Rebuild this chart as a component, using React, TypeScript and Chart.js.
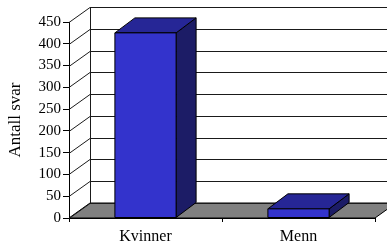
import React, { useEffect, useRef } from "react";
import { Chart, registerables } from "chart.js";

Chart.register(...registerables);

const categories = ["Kvinner", "Menn"];
const values = [425, 21];
const yMax = 450;
const yStep = 50;
const yTitle = "Antall svar";

const FONT = "'Liberation Serif', 'Times New Roman', serif";
const DX = 21;
const DY = -15;
const BDX = 20;
const BDY = -15;

const threeD = {
  id: "threeD",
  beforeDatasetsDraw(chart: any) {
    const ctx = chart.ctx;
    const { left, right, top, bottom } = chart.chartArea;
    const ys = chart.scales.y;
    ctx.save();
    // floor
    ctx.beginPath();
    ctx.moveTo(left, bottom);
    ctx.lineTo(left + DX, bottom + DY);
    ctx.lineTo(right + DX, bottom + DY);
    ctx.lineTo(right, bottom);
    ctx.closePath();
    ctx.fillStyle = "#808080";
    ctx.fill();
    ctx.strokeStyle = "#000";
    ctx.lineWidth = 1;
    ctx.stroke();
    // grid on walls
    ctx.strokeStyle = "#1a1a1a";
    for (let v = 0; v <= yMax; v += yStep) {
      const yf = Math.round(ys.getPixelForValue(v)) + 0.5;
      ctx.beginPath();
      ctx.moveTo(left, yf);
      ctx.lineTo(left + DX, yf + DY);
      ctx.lineTo(right + DX, yf + DY);
      ctx.stroke();
    }
    // back wall left edge
    const xb = Math.round(left + DX) + 0.5;
    ctx.beginPath();
    ctx.moveTo(xb, bottom + DY);
    ctx.lineTo(xb, top + DY);
    ctx.stroke();
    // axis title
    ctx.fillStyle = "#000";
    ctx.font = `17px ${FONT}`;
    ctx.textAlign = "center";
    ctx.textBaseline = "middle";
    ctx.translate(16, (top + bottom) / 2);
    ctx.rotate(-Math.PI / 2);
    ctx.fillText(yTitle, 0, 0);
    ctx.restore();
  },
  afterDatasetsDraw(chart: any) {
    const ctx = chart.ctx;
    const meta = chart.getDatasetMeta(0);
    ctx.save();
    ctx.strokeStyle = "#000";
    ctx.lineWidth = 1;
    ctx.lineJoin = "round";
    meta.data.forEach((bar: any) => {
      const { x, y, width, base } = bar.getProps(["x", "y", "width", "base"], true);
      const l = x - width / 2;
      const r = x + width / 2;
      // side
      ctx.beginPath();
      ctx.moveTo(r, y);
      ctx.lineTo(r + BDX, y + BDY);
      ctx.lineTo(r + BDX, base + BDY);
      ctx.lineTo(r, base);
      ctx.closePath();
      ctx.fillStyle = "rgb(28,28,102)";
      ctx.fill();
      ctx.stroke();
      // top
      ctx.beginPath();
      ctx.moveTo(l, y);
      ctx.lineTo(l + BDX, y + BDY);
      ctx.lineTo(r + BDX, y + BDY);
      ctx.lineTo(r, y);
      ctx.closePath();
      ctx.fillStyle = "rgb(38,38,150)";
      ctx.fill();
      ctx.stroke();
      // front
      ctx.beginPath();
      ctx.rect(l, y, width, base - y);
      ctx.fillStyle = "rgb(51,51,204)";
      ctx.fill();
      ctx.stroke();
    });
    ctx.restore();
  },
};

export default function App() {
  const ref = useRef<HTMLCanvasElement | null>(null);
  useEffect(() => {
    if (!ref.current) return;
    const chart = new Chart(ref.current, {
      type: "bar",
      data: {
        labels: categories,
        datasets: [
          {
            data: values,
            backgroundColor: "rgba(0,0,0,0)",
            borderWidth: 0,
            barPercentage: 0.4,
            categoryPercentage: 1,
          },
        ],
      },
      options: {
        responsive: false,
        animation: false,
        layout: { padding: { top: 22, right: 12, left: 0, bottom: 0 } },
        plugins: { legend: { display: false }, tooltip: { enabled: false } },
        scales: {
          x: {
            offset: true,
            afterFit: (s: any) => {
              s.height = 32;
            },
            grid: { drawOnChartArea: false, drawTicks: true, tickLength: 4, color: "#000" },
            border: { display: true, color: "#000" },
            ticks: { color: "#000", font: { family: FONT, size: 16 }, padding: 5, maxRotation: 0 },
          },
          y: {
            min: 0,
            max: yMax,
            afterFit: (s: any) => {
              s.width = 69;
            },
            grid: { drawOnChartArea: false, drawTicks: true, tickLength: 6, color: "#000" },
            border: { display: true, color: "#000" },
            ticks: { stepSize: yStep, color: "#000", font: { family: FONT, size: 15 }, padding: 2 },
          },
        },
      },
      plugins: [threeD],
    });
    return () => chart.destroy();
  }, []);
  return (
    <div style={{ position: "fixed", left: 0, top: 0, width: 387, height: 250, background: "#fff" }}>
      <canvas ref={ref} width={387} height={250} style={{ display: "block" }} />
    </div>
  );
}
